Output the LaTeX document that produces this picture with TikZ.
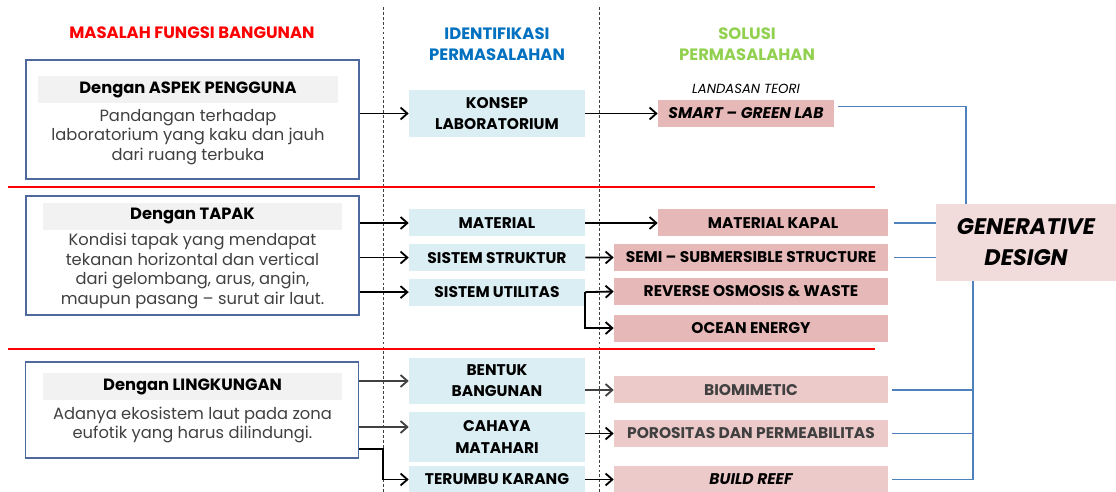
\documentclass[tikz,border=0pt]{standalone}
\usepackage{fontspec}
\setmainfont{Poppins}
\usepackage{xcolor}
\usetikzlibrary{positioning,arrows.meta}

\definecolor{boxblue}{HTML}{4E6A9C}
\definecolor{headgray}{HTML}{F2F2F2}
\definecolor{idblue}{HTML}{DAEEF3}
\definecolor{solpink}{HTML}{E6B9B8}
\definecolor{sollight}{HTML}{EDCACA}
\definecolor{gdpink}{HTML}{F2DCDB}
\definecolor{linkblue}{HTML}{4F81BD}
\definecolor{titleblue}{HTML}{0070C0}
\definecolor{titlegreen}{HTML}{92D050}
\definecolor{bodygray}{HTML}{404040}

\begin{document}
\begin{tikzpicture}[
		x=0.25mm, y=-0.25mm,
		node distance=1.75mm and 8mm,
		coltitle/.style={
			align=center,
			font=\fontsize{11.7}{15}\selectfont\bfseries
		},
		issuebox/.style={
			draw=boxblue,
			line width=0.9pt,
			minimum width=83.25mm,
			inner sep=0pt
		},
		issuehead/.style={
			fill=headgray,
			minimum width=74.75mm,
			minimum height=6.75mm,
			inner sep=0pt,
			font=\fontsize{11.6}{13}\selectfont\bfseries
		},
		issuetext/.style={
			align=center,
			inner sep=0pt,
			text=bodygray,
			font=\fontsize{11.6}{14}\selectfont
		},
		idbox/.style={
			fill=idblue,
			align=center,
			minimum width=44mm,
			minimum height=6.75mm,
			inner sep=0pt,
			font=\fontsize{11}{15}\selectfont\bfseries
		},
		solbox/.style={
			fill=solpink,
			align=center,
			minimum width=68.5mm,
			minimum height=6.75mm,
			inner sep=0pt,
			font=\fontsize{11}{13}\selectfont\bfseries
		},
		arrow/.style={-{Straight Barb[length=1.7mm,width=3mm]}, line width=1.3pt},
		link/.style={draw=linkblue, line width=1.3pt},
		divider/.style={draw=black!75, line width=0.6pt, dash pattern=on 2pt off 1.5pt},
		rowline/.style={draw=red, line width=1.4pt}
		]
		\useasboundingbox (0,0) rectangle (1116,492);
		
		% Column titles
		\node[coltitle, text=red] (tmasalah) at (192,33) {MASALAH FUNGSI BANGUNAN};
		\node[coltitle, text=titleblue] (tident) at (497,44) {IDENTIFIKASI\\PERMASALAHAN};
		\node[coltitle, text=titlegreen] (tsolusi) at (747,44) {SOLUSI\\PERMASALAHAN};
		
		% Dividers
		\draw[divider] (383,7) -- (383,492);
		\draw[divider] (599,7) -- (599,492);
		\draw[rowline] (8,187) -- (875,187);
		\draw[rowline] (8,349) -- (875,349);
		
		% Problem boxes
		\node[issuebox, minimum height=29.75mm] (pengguna) at (192.5,119.5) {};
		\node[issuehead] (penggunahead) at (188,89.5) {Dengan ASPEK PENGGUNA};
		\node[issuetext] (penggunatext) at (188,137) {
			Pandangan terhadap\\
			laboratorium yang kaku dan jauh\\
			dari ruang terbuka
		};
		
		\node[issuebox, minimum height=29.75mm] (tapak) at (192.5,255.5) {};
		\node[issuehead] (tapakhead) at (192.5,216.5) {Dengan TAPAK};
		\node[issuetext] (tapaktext) at (192.5,271) {
			Kondisi tapak yang mendapat\\
			tekanan horizontal dan vertical\\
			dari gelombang, arus, angin,\\
			maupun pasang -- surut air laut.
		};
		
		\node[issuebox, minimum height=24mm] (lingkungan) at (192,410) {};
		\node[issuehead] (lingkunganhead) at (192.5,386.5) {Dengan LINGKUNGAN};
		\node[issuetext] (lingkungantext) at (192.5,425) {
			Adanya ekosistem laut pada zona\\
			eufotik yang harus dilindungi.
		};
		
		% Identification
		\node[idbox, minimum height=11.75mm] (konsep) at (497,113.5) {KONSEP\\LABORATORIUM};
		\node[idbox] (material) at (497,223) {MATERIAL};
		\node[idbox, below=of material] (struktur) {SISTEM STRUKTUR};
		\node[idbox, below=of struktur] (utilitas) {SISTEM UTILITAS};
		\node[idbox, minimum height=11.5mm] (bentuk) at (497,381) {BENTUK\\BANGUNAN};
		\node[idbox, minimum height=12.5mm] (cahaya) at (497,437) {CAHAYA\\MATAHARI};
		\node[idbox] (terumbu) at (497,479.5) {TERUMBU KARANG};
		
		% Solutions
		\node[font=\fontsize{9.4}{11}\selectfont\itshape] (landasan) at (746,89) {LANDASAN TEORI};
		\node[solbox, minimum width=44mm, font=\fontsize{11}{13}\selectfont\bfseries\itshape] (smart) at (746,113.5) {SMART -- GREEN LAB};
		\node[solbox, minimum width=57.5mm] (kapal) at (773,223) {MATERIAL KAPAL};
		\node[solbox] (semi) at (751,257.5) {SEMI -- SUBMERSIBLE STRUCTURE};
		\node[solbox] (reverse) at (751,291.5) {REVERSE OSMOSIS \& WASTE};
		\node[solbox, below=2.25mm of reverse] (ocean) {OCEAN ENERGY};
		\node[solbox, fill=sollight, text=bodygray] (biomimetic) at (751,390) {BIOMIMETIC};
		\node[solbox, fill=sollight, text=bodygray] (porositas) at (751,433.5) {POROSITAS DAN PERMEABILITAS};
		\node[solbox, fill=sollight, font=\fontsize{11}{13}\selectfont\bfseries\itshape] (buildreef) at (751,479.5) {BUILD REEF};
		
		% Generative design
		\node[fill=gdpink, minimum width=45mm, minimum height=19.25mm, inner sep=0pt,
			align=center, font=\fontsize{16}{22}\selectfont\bfseries\itshape] (gd) at (1026,242.5) {GENERATIVE\\DESIGN};
		
		% Arrows
		\draw[arrow] (konsep.west -| pengguna.east) -- (konsep.west);
		\draw[arrow] (konsep.east) -- (smart.west);
		\draw[arrow] (material.west -| tapak.east) -- (material.west);
		\draw[arrow] (struktur.west -| tapak.east) -- (struktur.west);
		\draw[arrow] (utilitas.west -| tapak.east) -- (utilitas.west);
		\draw[arrow] (material.east) -- (kapal.west);
		\draw[arrow] (struktur.east) -- (semi.west);
		\draw[arrow] (utilitas.east) -- (reverse.west);
		\draw[arrow] (utilitas.east) |- (ocean.west);
		
		\coordinate (cahayain) at ([yshift=2.5mm]cahaya.west);
		\coordinate (lingkunganout) at ([yshift=2.5mm]lingkungan.south east);
		\draw[arrow, draw=bodygray] (bentuk.west -| lingkungan.east) -- (bentuk.west);
		\draw[arrow, draw=bodygray] (cahayain -| lingkungan.east) -- (cahayain);
		\draw[arrow] (lingkunganout) -- ++(24,0) |- (terumbu.west);
		\draw[arrow, draw=bodygray] (biomimetic.west -| bentuk.east) -- (biomimetic.west);
		\draw[arrow] (porositas.west -| cahaya.east) -- (porositas.west);
		\draw[arrow] (terumbu.east) -- (buildreef.west);
		
		% Links to generative design
		\coordinate (busup) at (966,0);
		\coordinate (busdown) at (973,0);
		\draw[link] ([xshift=1mm,yshift=1.75mm]smart.east) -| (busup |- gd.north);
		\draw[link] ([xshift=1.5mm]kapal.east) -- (kapal.east -| gd.west);
		\draw[link] ([xshift=1.5mm]semi.east) -- (semi.east -| gd.west);
		\draw[link] (busdown |- gd.south) -- (busdown |- buildreef.east) -- ([xshift=1mm]buildreef.east);
		\draw[link] ([xshift=1mm]biomimetic.east) -- (biomimetic.east -| busdown);
		\draw[link] ([xshift=1mm]porositas.east) -- (porositas.east -| busdown);
		
	\end{tikzpicture}
\end{document}
